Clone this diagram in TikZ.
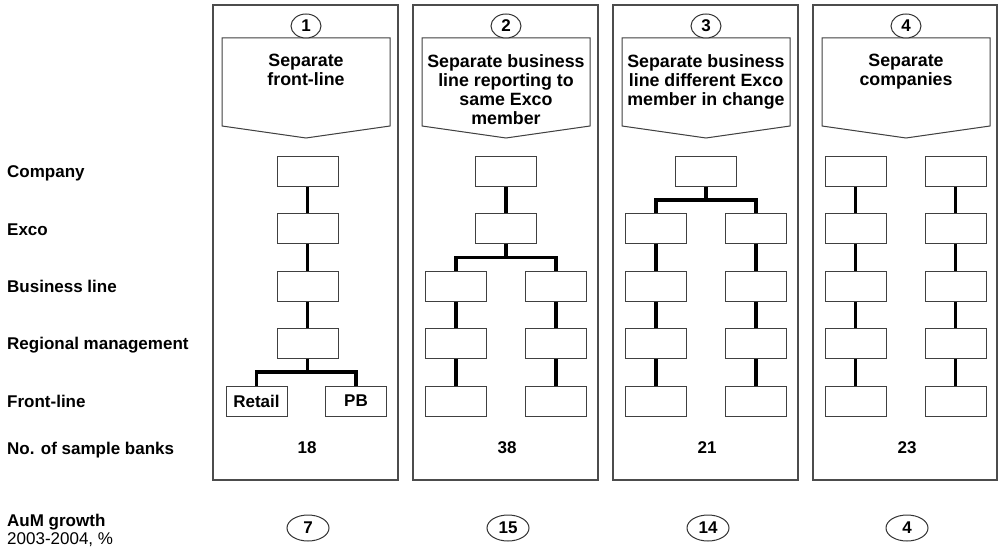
\documentclass[tikz,border=0pt]{standalone}
\usepackage{fontspec}
\setmainfont{Liberation Sans}
\usetikzlibrary{shapes.geometric}
\begin{document}
\begin{tikzpicture}[x=1pt,y=-1pt,
  every node/.style={font=\fontsize{17}{19}\selectfont\bfseries, inner sep=0pt},
  panel/.style={draw=black!70, line width=1.2pt},
  unit/.style={draw=black!75, line width=1pt, fill=white, minimum width=61pt, minimum height=30pt},
  bar/.style={line width=3.6pt, black},
  chev/.style={draw=black!75, line width=1pt, fill=white},
  tag/.style={ellipse, draw=black!80, line width=1pt, fill=white, minimum width=30pt, minimum height=24pt},
  growth/.style={ellipse, draw=black!80, line width=1pt, fill=white, minimum width=42pt, minimum height=26pt},
  title/.style={anchor=north, align=center, font=\fontsize{17.8}{19}\selectfont\bfseries},
  rowlabel/.style={anchor=base west}]
\useasboundingbox (0,0) rectangle (999,548);

% row labels on the left
\node[rowlabel] (lcomp) at (7,178) {Company};
\node[rowlabel] (lexco) at (7,235.5) {Exco};
\node[rowlabel] (lbus)  at (7,293) {Business line};
\node[rowlabel] (lreg)  at (7,349.5) {Regional management};
\node[rowlabel] (lfront) at (7,407.5) {Front-line};
\node[rowlabel] (lbanks) at (7,454) {No. of sample banks};
\node[rowlabel] (laum) at (7,526) {AuM growth};
\node[rowlabel, font=\fontsize{17}{19}\selectfont] (lyears) at (7,544) {2003-2004, \%};

% four model columns: frame, heading arrow and number tag
\foreach \k/\cx/\w in {1/306/185, 2/506/185, 3/706/185, 4/906/184} {
  \draw[panel] (\cx-93,5) rectangle (\cx-93+\w,480);
  \draw[chev] (\cx-84,38) -- (\cx+84,38) -- (\cx+84,126) -- (\cx,138) -- (\cx-84,126) -- cycle;
  \node[tag] (tag\k) at (\cx,26) {\k};
}
\node[title] (h1) at (306,54) {Separate\\front-line};
\node[title] (h2) at (506,54) {Separate business\\line reporting to\\same Exco\\member};
\node[title] (h3) at (706,54) {Separate business\\line different Exco\\member in change};
\node[title] (h4) at (906,54) {Separate\\companies};

% sample counts and AuM growth
\node (n1) at (307,448) {18};
\node (n2) at (507,448) {38};
\node (n3) at (707,448) {21};
\node (n4) at (907,448) {23};
\node[growth] (g1) at (308,528) {7};
\node[growth] (g2) at (508,528) {15};
\node[growth] (g3) at (708,528) {14};
\node[growth] (g4) at (907,528) {4};

% model 1: one chain, split at the front line
\node[unit] (a1) at (307.5,171.5) {};
\node[unit] (a2) at (307.5,229) {};
\node[unit] (a3) at (307.5,286.5) {};
\node[unit] (a4) at (307.5,343) {};
\node[unit] (aL) at (256.5,401) {Retail};
\node[unit] (aR) at (356,401) {PB};
\coordinate (aj) at (307.5,372);
\draw[bar] (a1) -- (a2);
\draw[bar] (a2) -- (a3);
\draw[bar] (a3) -- (a4);
\draw[bar] (a4.south) -- (aj);
\draw[bar] (aL.north) |- (aj) -| (aR.north);

% model 2: split below the Exco
\node[unit] (b1) at (506,171.5) {};
\node[unit] (b2) at (506,229) {};
\coordinate (bj) at (506,257.5);
\draw[bar] (b1) -- (b2);
\draw[bar] (b2.south) -- (bj);
\foreach \s/\x in {L/456, R/556} {
  \node[unit] (b\s3) at (\x,286.5) {};
  \node[unit] (b\s4) at (\x,343) {};
  \node[unit] (b\s5) at (\x,401) {};
  \draw[bar] (b\s3) -- (b\s4);
  \draw[bar] (b\s4) -- (b\s5);
}
\draw[bar] (bL3.north) |- (bj) -| (bR3.north);

% model 3: split below the company
\node[unit] (c1) at (706,171.5) {};
\coordinate (cj) at (706,200);
\draw[bar] (c1.south) -- (cj);
\foreach \s/\x in {L/656, R/756} {
  \node[unit] (c\s2) at (\x,229) {};
  \node[unit] (c\s3) at (\x,286.5) {};
  \node[unit] (c\s4) at (\x,343) {};
  \node[unit] (c\s5) at (\x,401) {};
  \draw[bar] (c\s2) -- (c\s3);
  \draw[bar] (c\s3) -- (c\s4);
  \draw[bar] (c\s4) -- (c\s5);
}
\draw[bar] (cL2.north) |- (cj) -| (cR2.north);

% model 4: two independent chains
\foreach \s/\x in {L/855.5, R/955.5} {
  \node[unit] (d\s1) at (\x,171.5) {};
  \node[unit] (d\s2) at (\x,229) {};
  \node[unit] (d\s3) at (\x,286.5) {};
  \node[unit] (d\s4) at (\x,343) {};
  \node[unit] (d\s5) at (\x,401) {};
  \draw[bar] (d\s1) -- (d\s2);
  \draw[bar] (d\s2) -- (d\s3);
  \draw[bar] (d\s3) -- (d\s4);
  \draw[bar] (d\s4) -- (d\s5);
}
\end{tikzpicture}
\end{document}
